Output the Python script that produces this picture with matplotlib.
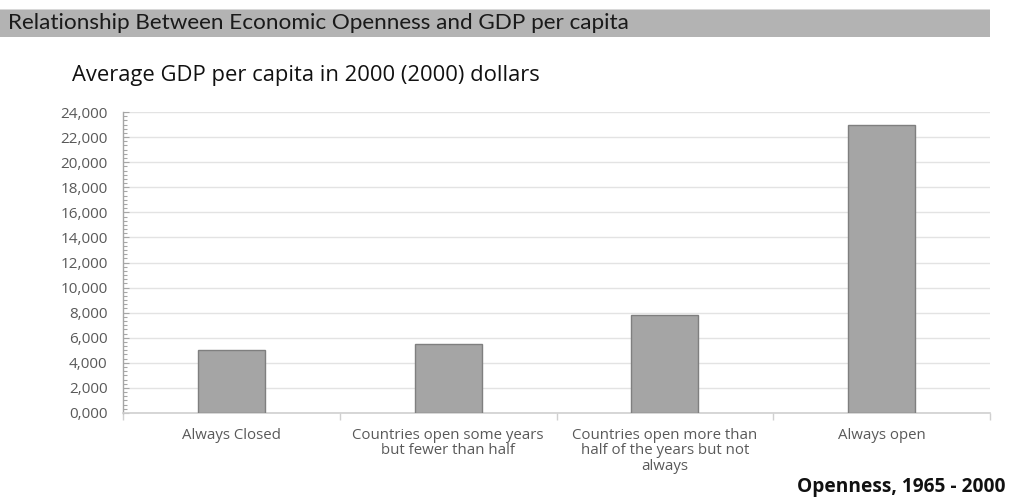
import matplotlib
matplotlib.use("Agg")
import matplotlib.pyplot as plt
from matplotlib.ticker import MultipleLocator, FixedLocator, FixedFormatter
from matplotlib.patches import Rectangle

categories = ["Always Closed",
              "Countries open some years\nbut fewer than half",
              "Countries open more than\nhalf of the years but not\nalways",
              "Always open"]
gdp_values = [5000, 5500, 7800, 23000]
y_ticks = [0, 2000, 4000, 6000, 8000, 10000, 12000, 14000, 16000, 18000, 20000, 22000, 24000]
y_labels = ["0,000", "2,000", "4,000", "6,000", "8,000", "10,000", "12,000", "14,000",
            "16,000", "18,000", "20,000", "22,000", "24,000"]

banner_title = "Relationship Between Economic Openness and GDP per capita"
subtitle = "Average GDP per capita in 2000 (2000) dollars"
x_title = "Openness, 1965 - 2000"

W, H = 1022, 497
fig = plt.figure(figsize=(W / 100, H / 100), dpi=100)
fig.patch.set_facecolor("white")

# banner
fig.patches.append(Rectangle((0, 1 - 37 / H), 990 / W, 28 / H, transform=fig.transFigure,
                             facecolor="#b3b3b3", edgecolor="none"))
fig.patches.append(Rectangle((0, 1 - 10 / H), 990 / W, 1.5 / H, transform=fig.transFigure,
                             facecolor="#d8d8d8", edgecolor="none"))
fig.text(8 / W, 1 - 23 / H, banner_title, fontsize=16.2, family="Lato", color="#1a1a1a",
         va="center", ha="left")
fig.text(72 / W, 1 - 75 / H, subtitle, fontsize=15.8, family="Open Sans", color="#111111",
         va="center", ha="left")
fig.text(797 / W, 1 - 487 / H, x_title, fontsize=13.8, family="Open Sans", fontweight="bold",
         color="#111111", va="center", ha="left")

ax = fig.add_axes([123 / W, 1 - 413 / H, (990 - 123) / W, (413 - 112) / H])
x = list(range(len(categories)))
ax.bar(x, gdp_values, width=0.31, color="#a5a5a5", edgecolor="#7f7f7f", linewidth=1.0, zorder=3)
ax.set_xlim(-0.5, len(categories) - 0.5)
ax.set_ylim(0, 24000)

ax.yaxis.set_major_locator(FixedLocator(y_ticks))
ax.yaxis.set_major_formatter(FixedFormatter(y_labels))
ax.yaxis.set_minor_locator(MultipleLocator(2000 / 6))
ax.grid(axis="y", which="major", color="#e3e3e3", linewidth=1.0, zorder=0)

ax.xaxis.set_major_locator(FixedLocator([-0.5, 0.5, 1.5, 2.5, 3.5]))
ax.xaxis.set_major_formatter(FixedFormatter([""] * 5))
ax.xaxis.set_minor_locator(FixedLocator(x))
ax.xaxis.set_minor_formatter(FixedFormatter(categories))
ax.tick_params(axis="x", which="major", direction="out", length=5, color="#d0d0d0", width=1)
ax.tick_params(axis="x", which="minor", length=0, pad=10.5, labelsize=10.8, labelcolor="#595959")
for lbl in ax.xaxis.get_minorticklabels():
    lbl.set_family("Open Sans")
    lbl.set_linespacing(1.05)
    lbl.set_va("top")

ax.tick_params(axis="y", which="both", direction="in", color="#a6a6a6", width=0.8)
ax.tick_params(axis="y", which="major", length=4, pad=11, labelsize=11, labelcolor="#595959")
ax.tick_params(axis="y", which="minor", length=3)
for lbl in ax.yaxis.get_majorticklabels():
    lbl.set_family("Open Sans")

for s in ["top", "right"]:
    ax.spines[s].set_visible(False)
ax.spines["left"].set_color("#a6a6a6")
ax.spines["bottom"].set_color("#d0d0d0")
ax.spines["left"].set_linewidth(1)
ax.spines["bottom"].set_linewidth(1.2)

fig.savefig("out.png", dpi=100)
